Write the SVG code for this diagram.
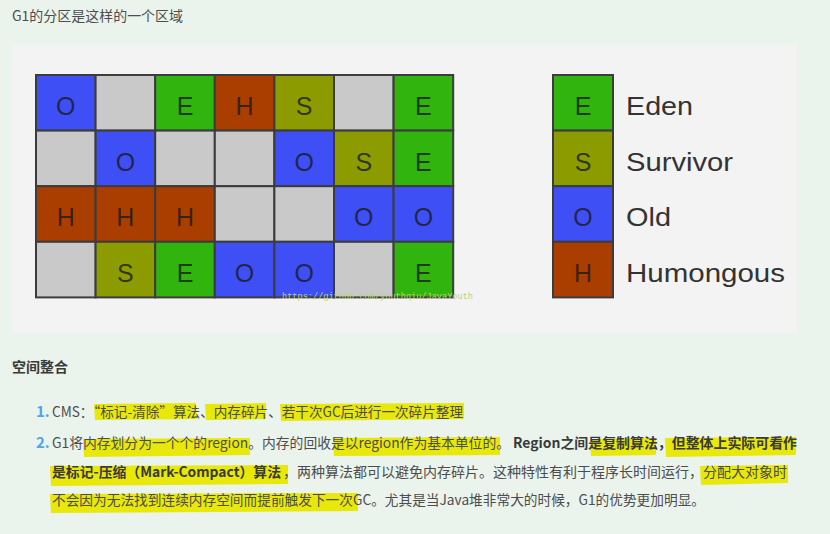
<svg xmlns="http://www.w3.org/2000/svg" width="830" height="534" viewBox="0 0 830 534">
<defs>
<style>
.cell{stroke:#3c3c3c;stroke-width:2}
.O{fill:#3e4ff6}.G{fill:#c9c9c9}.E{fill:#31b40d}.H{fill:#aa3d00}.S{fill:#8c9c00}
.lt{font-family:"Liberation Sans",Arial,sans-serif;font-size:25px;fill:#1a1a1a;fill-opacity:0.8;text-anchor:middle}
.lg{font-family:"Liberation Sans",Arial,sans-serif;font-size:25px;fill:#333}
.t{font-family:"Noto Sans CJK SC","Liberation Sans",sans-serif;font-size:14px;fill:#4d4d4d}
.b{font-family:"Noto Sans CJK SC","Liberation Sans",sans-serif;font-size:14px;font-weight:bold;fill:#3a3a3a}
.n{font-family:"Noto Sans CJK SC","Liberation Sans",sans-serif;font-size:15px;font-weight:bold;fill:#4ea7e8}
.hl{fill:#e8e80a}
</style>
</defs>
<rect width="830" height="534" fill="#eaf3ec"/>
<text class="t" x="12" y="21" textLength="171" lengthAdjust="spacingAndGlyphs">G1的分区是这样的一个区域</text>
<rect x="12" y="45" width="785" height="288" fill="#f3f3f3"/>

<g id="grid">
<g id="c00"><rect class="cell O" x="36" y="75" width="59.6" height="55.6"/><text class="lt" x="65.8" y="115">O</text></g>
<g id="c01"><rect class="cell G" x="95.6" y="75" width="59.6" height="55.6"/></g>
<g id="c02"><rect class="cell E" x="155.2" y="75" width="59.6" height="55.6"/><text class="lt" x="185" y="115">E</text></g>
<g id="c03"><rect class="cell H" x="214.8" y="75" width="59.6" height="55.6"/><text class="lt" x="244.6" y="115">H</text></g>
<g id="c04"><rect class="cell S" x="274.4" y="75" width="59.6" height="55.6"/><text class="lt" x="304.2" y="115">S</text></g>
<g id="c05"><rect class="cell G" x="334" y="75" width="59.6" height="55.6"/></g>
<g id="c06"><rect class="cell E" x="393.6" y="75" width="59.6" height="55.6"/><text class="lt" x="423.4" y="115">E</text></g>

<g id="c10"><rect class="cell G" x="36" y="130.6" width="59.6" height="55.6"/></g>
<g id="c11"><rect class="cell O" x="95.6" y="130.6" width="59.6" height="55.6"/><text class="lt" x="125.4" y="170.6">O</text></g>
<g id="c12"><rect class="cell G" x="155.2" y="130.6" width="59.6" height="55.6"/></g>
<g id="c13"><rect class="cell G" x="214.8" y="130.6" width="59.6" height="55.6"/></g>
<g id="c14"><rect class="cell O" x="274.4" y="130.6" width="59.6" height="55.6"/><text class="lt" x="304.2" y="170.6">O</text></g>
<g id="c15"><rect class="cell S" x="334" y="130.6" width="59.6" height="55.6"/><text class="lt" x="363.8" y="170.6">S</text></g>
<g id="c16"><rect class="cell E" x="393.6" y="130.6" width="59.6" height="55.6"/><text class="lt" x="423.4" y="170.6">E</text></g>

<g id="c20"><rect class="cell H" x="36" y="186.2" width="59.6" height="55.6"/><text class="lt" x="65.8" y="226.2">H</text></g>
<g id="c21"><rect class="cell H" x="95.6" y="186.2" width="59.6" height="55.6"/><text class="lt" x="125.4" y="226.2">H</text></g>
<g id="c22"><rect class="cell H" x="155.2" y="186.2" width="59.6" height="55.6"/><text class="lt" x="185" y="226.2">H</text></g>
<g id="c23"><rect class="cell G" x="214.8" y="186.2" width="59.6" height="55.6"/></g>
<g id="c24"><rect class="cell G" x="274.4" y="186.2" width="59.6" height="55.6"/></g>
<g id="c25"><rect class="cell O" x="334" y="186.2" width="59.6" height="55.6"/><text class="lt" x="363.8" y="226.2">O</text></g>
<g id="c26"><rect class="cell O" x="393.6" y="186.2" width="59.6" height="55.6"/><text class="lt" x="423.4" y="226.2">O</text></g>

<g id="c30"><rect class="cell G" x="36" y="241.8" width="59.6" height="55.6"/></g>
<g id="c31"><rect class="cell S" x="95.6" y="241.8" width="59.6" height="55.6"/><text class="lt" x="125.4" y="281.8">S</text></g>
<g id="c32"><rect class="cell E" x="155.2" y="241.8" width="59.6" height="55.6"/><text class="lt" x="185" y="281.8">E</text></g>
<g id="c33"><rect class="cell O" x="214.8" y="241.8" width="59.6" height="55.6"/><text class="lt" x="244.6" y="281.8">O</text></g>
<g id="c34"><rect class="cell O" x="274.4" y="241.8" width="59.6" height="55.6"/><text class="lt" x="304.2" y="281.8">O</text></g>
<g id="c35"><rect class="cell G" x="334" y="241.8" width="59.6" height="55.6"/></g>
<g id="c36"><rect class="cell E" x="393.6" y="241.8" width="59.6" height="55.6"/><text class="lt" x="423.4" y="281.8">E</text></g>
</g>
<text x="282" y="299" font-family="'Liberation Mono',monospace" font-size="8.5" fill="#b9d27a" textLength="191" lengthAdjust="spacingAndGlyphs">https://github.com/youthqiu/JavaYouth</text>

<g id="legend">
<g id="lgE"><rect class="cell E" x="553" y="75" width="60" height="55.6"/><text class="lt" x="583" y="115">E</text><text class="lg" x="626" y="115" textLength="67" lengthAdjust="spacingAndGlyphs">Eden</text></g>
<g id="lgS"><rect class="cell S" x="553" y="130.6" width="60" height="55.6"/><text class="lt" x="583" y="170.6">S</text><text class="lg" x="626" y="170.6" textLength="107" lengthAdjust="spacingAndGlyphs">Survivor</text></g>
<g id="lgO"><rect class="cell O" x="553" y="186.2" width="60" height="55.6"/><text class="lt" x="583" y="226.2">O</text><text class="lg" x="626" y="226.2" textLength="45" lengthAdjust="spacingAndGlyphs">Old</text></g>
<g id="lgH"><rect class="cell H" x="553" y="241.8" width="60" height="55.6"/><text class="lt" x="583" y="281.8">H</text><text class="lg" x="626" y="281.8" textLength="159" lengthAdjust="spacingAndGlyphs">Humongous</text></g>
</g>

<text class="b" x="12" y="372" textLength="56" lengthAdjust="spacingAndGlyphs">空间整合</text>

<g id="highlights">
<path class="hl" d="M94 404 L196 403 L197 419 L95 420 Z"/>
<path class="hl" d="M205 404 L266 403 L266 419 L206 420 Z"/>
<path class="hl" d="M280 404 L464 403 L464 419 L281 421 Z"/>
<path class="hl" d="M83 439 L250 438 L250 455 L84 457 Z"/>
<path class="hl" d="M333 438 L500 437 L500 455 L334 456 Z"/>
<path class="hl" d="M590 439 L656 438 L656 455 L591 456 Z"/>
<path class="hl" d="M665 438 L796 437 L796 455 L666 457 Z"/>
<path class="hl" d="M50 466 L288 465 L288 484 L51 486 Z"/>
<path class="hl" d="M700 466 L788 465 L788 483 L701 485 Z"/>
<path class="hl" d="M50 494 L358 493 L358 511 L51 513 Z"/>
</g>

<text class="n" x="36" y="417">1.</text>
<text class="t" x="52" y="417" textLength="411" lengthAdjust="spacingAndGlyphs">CMS：“标记-清除”算法、内存碎片、若干次GC后进行一次碎片整理</text>

<text class="n" x="36" y="448">2.</text>
<text class="t" x="52" y="448" textLength="458" lengthAdjust="spacingAndGlyphs">G1将内存划分为一个个的region。内存的回收是以region作为基本单位的。</text>
<text class="b" x="513" y="448" textLength="284" lengthAdjust="spacingAndGlyphs">Region之间是复制算法，但整体上实际可看作</text>
<text class="b" x="52" y="477" textLength="229" lengthAdjust="spacingAndGlyphs">是标记-压缩（Mark-Compact）算法</text>
<text class="t" x="283" y="477" textLength="504" lengthAdjust="spacingAndGlyphs">，两种算法都可以避免内存碎片。这种特性有利于程序长时间运行，分配大对象时</text>
<text class="t" x="52" y="505" textLength="653" lengthAdjust="spacingAndGlyphs">不会因为无法找到连续内存空间而提前触发下一次GC。尤其是当Java堆非常大的时候，G1的优势更加明显。</text>
</svg>
